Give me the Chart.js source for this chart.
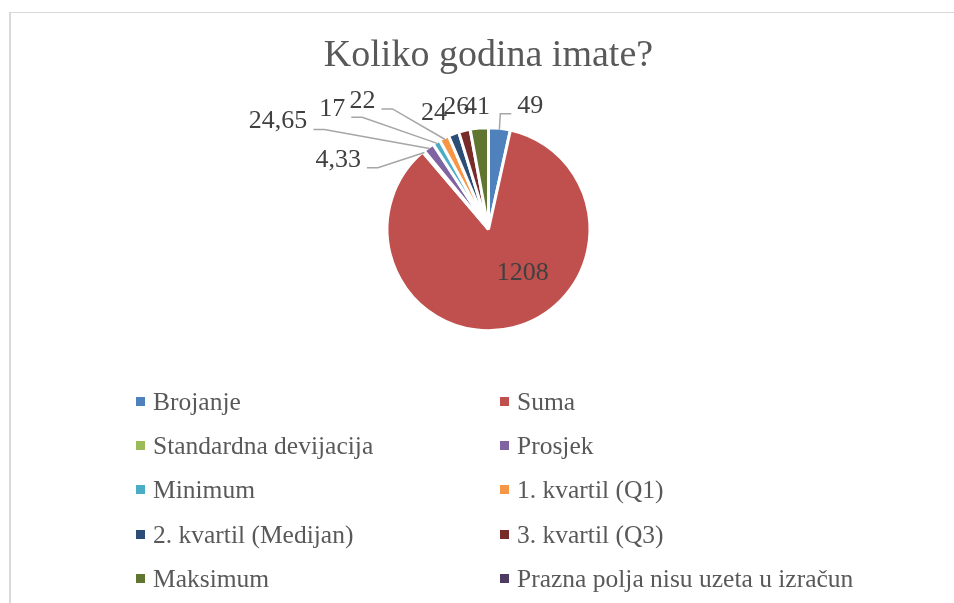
<!DOCTYPE html>
<html>
<head>
<meta charset="utf-8">
<title>Koliko godina imate?</title>
<script src="https://cdn.jsdelivr.net/npm/chart.js@4.4.1/dist/chart.umd.min.js"></script>
<style>
  body { margin: 0; background: #fff; overflow: hidden; }
  #frame { position: absolute; left: 9px; top: 12px; width: 980px; height: 640px;
           border-left: 2px solid #d9d9d9; border-top: 1px solid #d9d9d9; }
  #wrap { position: absolute; left: 0; top: 0; width: 954px; height: 603px; }
  #legend { position: absolute; left: 136px; top: 379px; width: 760px;
            display: grid; grid-template-columns: 364px 396px; grid-auto-rows: 44.3px;
            font-family: 'Liberation Serif', serif; font-size: 25.5px; color: #595959; }
  .item { display: flex; align-items: center; line-height: 25px; white-space: nowrap; }
  .box { width: 9px; height: 9px; margin-right: 8px; flex: none; }
</style>
</head>
<body>
<div id="frame"></div>
<div id="wrap"><canvas id="my-chart" width="954" height="603"></canvas></div>
<div id="legend"></div>
<script>
'use strict';

//********** Chart data *******************

let categories = [
  'Brojanje', 'Suma', 'Standardna devijacija', 'Prosjek', 'Minimum',
  '1. kvartil (Q1)', '2. kvartil (Medijan)', '3. kvartil (Q3)', 'Maksimum',
  'Prazna polja nisu uzeta u izračun'
];
let values = [49, 1208, 4.33, 24.65, 17, 22, 24, 26, 41, 0];
let sliceColors = [
  '#4F81BD', '#C0504D', '#9BBB59', '#8064A2', '#4BACC6',
  '#F79646', '#2C4D75', '#772C2A', '#5F7530', '#4D3B62'
];

// where each value label sits: [degrees clockwise from 12 o'clock, distance in pie radii, leader line]
let labelSpots = [
  [18.7, 1.29, true],
  [142, 0.55, false],
  [294.8, 1.64, true],
  [297.1, 2.34, true],
  [307.5, 1.95, true],
  [315.5, 1.78, true],
  [334.8, 1.27, false],
  [345.2, 1.25, false],
  [354.6, 1.215, false],
  null
];

// ************ Label plugin *******************

let pieLabels = {
  id: 'pieLabels',
  afterDatasetsDraw(chart) {
    let ctx = chart.ctx;
    let arcs = chart.getDatasetMeta(0).data;
    ctx.save();
    ctx.font = '26px "Liberation Serif"';
    ctx.textAlign = 'center';
    ctx.textBaseline = 'middle';
    ctx.strokeStyle = '#a6a6a6';
    ctx.lineWidth = 1.5;
    for (let i = 0; i < arcs.length; i++) {
      let spot = labelSpots[i];
      if (!values[i] || !spot) continue;
      let arc = arcs[i];
      let r = arc.outerRadius - 0.5;
      let a = spot[0] * Math.PI / 180 - Math.PI / 2;
      let lx = arc.x + Math.cos(a) * spot[1] * r;
      let ly = arc.y + Math.sin(a) * spot[1] * r;
      let text = String(values[i]).replace('.', ',');

      if (spot[2]) {
        let mid = (arc.startAngle + arc.endAngle) / 2;
        let ex = arc.x + Math.cos(mid) * (r - 1);
        let ey = arc.y + Math.sin(mid) * (r - 1);
        let half = ctx.measureText(text).width / 2;
        let dir = lx < ex ? 1 : -1;
        let sx = lx + dir * (half + 6);
        let sy = ly + 8;
        ctx.beginPath();
        ctx.moveTo(sx, sy);
        ctx.lineTo(sx + dir * 11, sy);
        ctx.lineTo(ex, ey);
        ctx.stroke();
      }
      ctx.fillStyle = '#404040';
      ctx.fillText(text, lx, ly);
    }
    ctx.restore();
  }
};

// ************ Chart *******************

let canvasElem = document.getElementById('my-chart');

let myChart = new Chart(canvasElem, {
  type: 'pie',
  data: {
    labels: categories,
    datasets: [{
      data: values,
      backgroundColor: sliceColors,
      borderColor: '#ffffff',
      borderWidth: 3
    }]
  },
  options: {
    responsive: false,
    animation: false,
    events: [],
    radius: 101.5,
    layout: { padding: { left: 23, right: 0, top: 0, bottom: 274 } },
    plugins: {
      legend: { display: false },
      tooltip: { enabled: false },
      title: {
        display: true,
        text: 'Koliko godina imate?',
        color: '#595959',
        font: { family: 'Liberation Serif', size: 38, weight: 'normal' },
        padding: { top: 33.2, bottom: 50.6 }
      }
    }
  },
  plugins: [pieLabels]
});

// ************ Legend (two columns) *******************

let legendElem = document.getElementById('legend');
for (let i = 0; i < myChart.data.labels.length; i++) {
  let item = document.createElement('div');
  item.className = 'item';
  let box = document.createElement('span');
  box.className = 'box';
  box.style.background = sliceColors[i];
  let txt = document.createElement('span');
  txt.textContent = myChart.data.labels[i];
  item.appendChild(box);
  item.appendChild(txt);
  legendElem.appendChild(item);
}
</script>
</body>
</html>
